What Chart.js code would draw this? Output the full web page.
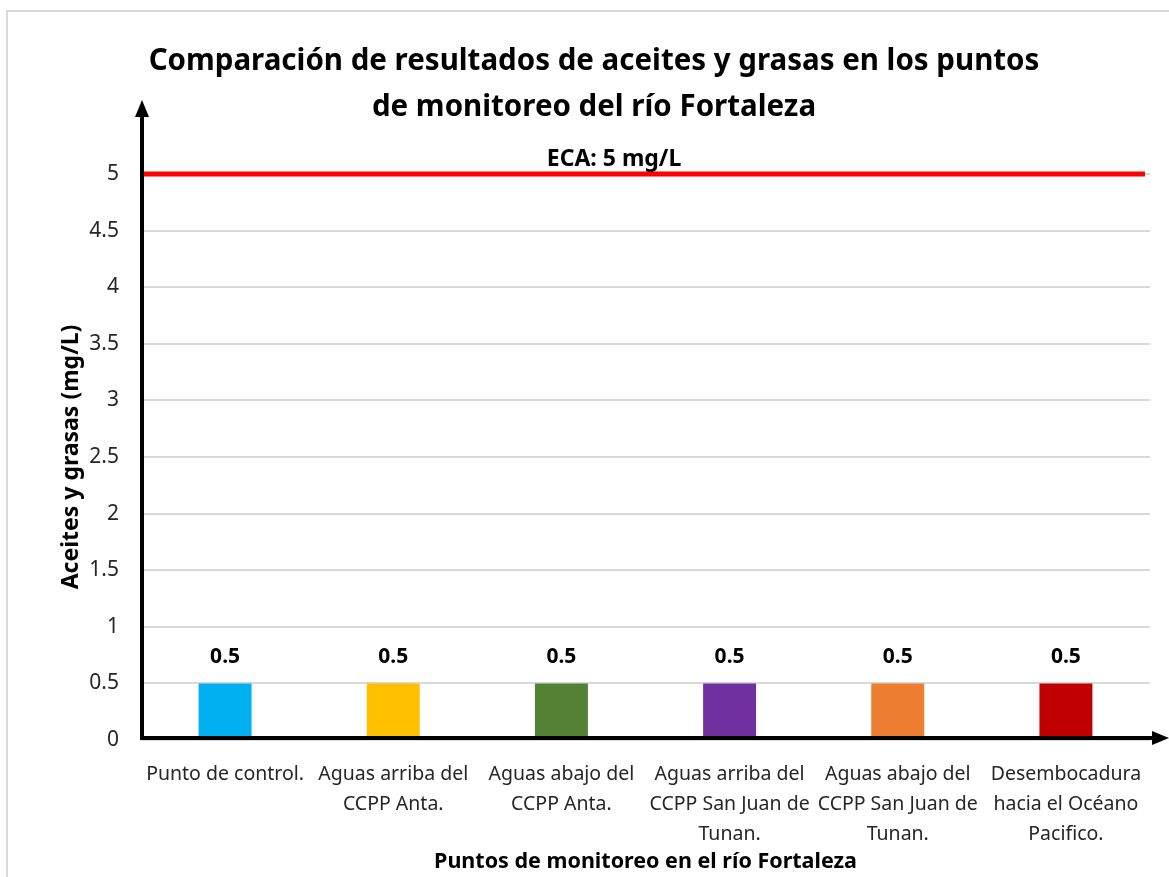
<!DOCTYPE html>
<html><head><meta charset="utf-8">
<script src="https://cdn.jsdelivr.net/npm/chart.js@4.4.1/dist/chart.umd.min.js"></script>
<style>
html,body{margin:0;padding:0;background:#fff;}
#wrap{position:relative;width:1169px;height:877px;}
#frame{position:absolute;left:6px;top:10px;width:1170px;height:880px;border-top:2px solid #d9d9d9;border-left:2px solid #d9d9d9;}
canvas{position:absolute;left:0;top:0;}
</style></head>
<body><div id="wrap"><div id="frame"></div><canvas id="c" width="1169" height="877"></canvas></div>
<script>
const titleLines = ["Comparación de resultados de aceites y grasas en los puntos", "de monitoreo del río Fortaleza"];
const categories = [
  "Punto de control.",
  ["Aguas arriba del", "CCPP Anta."],
  ["Aguas abajo del", "CCPP Anta."],
  ["Aguas arriba del", "CCPP San Juan de", "Tunan."],
  ["Aguas abajo del", "CCPP San Juan de", "Tunan."],
  ["Desembocadura", "hacia el Océano", "Pacifico."]
];
const values = [0.5, 0.5, 0.5, 0.5, 0.5, 0.5];
const barColors = ["#00B0F0", "#FFC000", "#548235", "#7030A0", "#ED7D31", "#C00000"];
const ecaValue = 5;
const ecaLabel = "ECA: 5 mg/L";
const yTitle = "Aceites y grasas (mg/L)";
const xTitle = "Puntos de monitoreo en el río Fortaleza";

const FONT = "'Noto Sans', sans-serif";

const overlay = {
  id: 'overlay',
  afterDraw(chart) {
    const ctx = chart.ctx, a = chart.chartArea;
    const ys = chart.scales.y;
    ctx.save();
    ctx.fillStyle = '#000';
    ctx.textAlign = 'center'; ctx.textBaseline = 'middle';
    ctx.font = "bold 29.5px " + FONT;
    ctx.fillText(titleLines[0], 594, 62);
    ctx.fillText(titleLines[1], 594, 108);
    ctx.font = "bold 23px " + FONT;
    ctx.fillText(ecaLabel, 614, ys.getPixelForValue(ecaValue) - 15);
    ctx.font = "bold 21px " + FONT;
    const meta = chart.getDatasetMeta(0);
    meta.data.forEach((bar, i) => {
      ctx.fillText(String(values[i]), bar.x, bar.y - 26);
    });
    const y0 = ys.getPixelForValue(0) - 2;
    const xl = a.left + 1;
    ctx.strokeStyle = '#000'; ctx.fillStyle = '#000'; ctx.lineWidth = 4;
    ctx.beginPath(); ctx.moveTo(xl, y0 + 2); ctx.lineTo(xl, 112); ctx.stroke();
    ctx.beginPath(); ctx.moveTo(xl, 100); ctx.lineTo(xl - 7, 117); ctx.lineTo(xl + 7, 117); ctx.closePath(); ctx.fill();
    ctx.beginPath(); ctx.moveTo(xl - 2, y0); ctx.lineTo(1156, y0); ctx.stroke();
    ctx.beginPath(); ctx.moveTo(1169, y0); ctx.lineTo(1152, y0 - 7); ctx.lineTo(1152, y0 + 7); ctx.closePath(); ctx.fill();
    ctx.restore();
  }
};

new Chart(document.getElementById('c'), {
  type: 'bar',
  data: {
    labels: categories,
    datasets: [
      { type: 'bar', data: values, backgroundColor: barColors, barPercentage: 0.315, categoryPercentage: 1, grouped: false, order: 2 },
      { type: 'line', xAxisID: 'x2', data: [{x: 0, y: ecaValue}, {x: 1, y: ecaValue}], borderColor: '#FF0000', borderWidth: 5, pointRadius: 0, clip: false, order: 1 }
    ]
  },
  options: {
    responsive: false, animation: false,
    layout: { padding: { top: 174, right: 19, left: 0, bottom: 0 } },
    plugins: { legend: { display: false }, tooltip: { enabled: false }, title: { display: false } },
    scales: {
      x: {
        grid: { display: false, drawTicks: false },
        border: { display: false },
        ticks: { color: '#262626', font: { family: FONT, size: 19.5, lineHeight: 1.52 }, padding: 20, maxRotation: 0, autoSkip: false },
        title: { display: true, text: xTitle, color: '#000', font: { family: FONT, size: 21.5, weight: 'bold' }, padding: { top: 0, bottom: 2 } },
        afterFit(s) { s.height = 137; }
      },
      x2: { type: 'linear', display: false, min: 0, max: 1.005, offset: false, grid: { offset: false } },
      y: {
        min: 0, max: 5,
        ticks: { stepSize: 0.5, color: '#262626', font: { family: FONT, size: 21 }, padding: 22, callback: (v) => String(v) },
        grid: { color: '#d9d9d9', lineWidth: 2, drawTicks: false },
        border: { display: false },
        title: { display: true, text: yTitle, color: '#000', font: { family: FONT, size: 23, weight: 'bold' }, padding: { top: 58, bottom: 0 } },
        afterFit(s) { s.width = 141; }
      }
    }
  },
  plugins: [overlay]
});
</script></body></html>
